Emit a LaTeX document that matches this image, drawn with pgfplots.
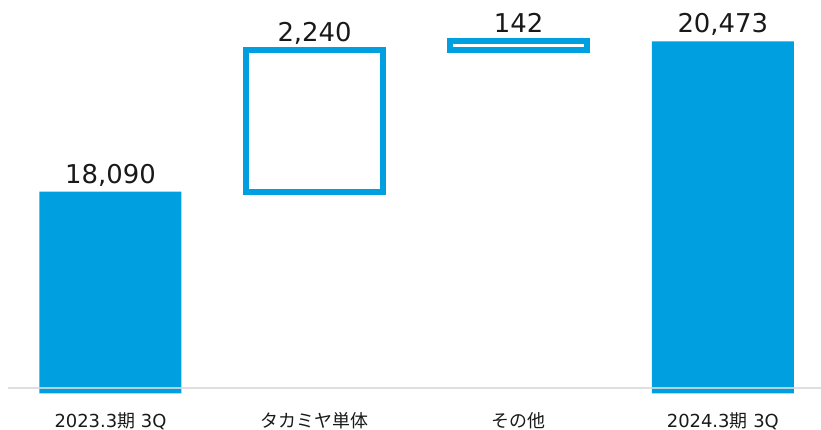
\documentclass[border=0pt]{standalone}
\usepackage{pgfplots}
\pgfplotsset{compat=1.18}
\usepackage{fontspec}
\setmainfont{DejaVu Sans}
\newfontfamily\cjk{Noto Sans CJK JP}
\definecolor{barblue}{HTML}{009FE0}
\definecolor{axisgray}{HTML}{D9D9D9}
\begin{document}
\begin{tikzpicture}
\useasboundingbox (0,0) rectangle (821bp,430bp);
\begin{axis}[
  at={(8bp,36.7bp)}, anchor=south west,
  scale only axis, width=813bp, height=393.3bp,
  xmin=-0.502, xmax=3.481, ymin=14890, ymax=21130,
  axis line style={draw=none},
  ytick=\empty,
  xtick={0,1,2,3},
  xticklabels={2023.3{\cjk 期} 3Q, {\cjk タカミヤ単体}, {\cjk その他}, 2024.3{\cjk 期} 3Q},
  major tick length=0pt,
  xticklabel style={font=\fontsize{18}{20}\selectfont, text=black!90, anchor=base, yshift=-33.7bp},
]
\addplot[ybar, bar width=142bp, bar shift=0pt, fill=barblue, draw=none] coordinates {(0,18090) (3,20473)};
\addplot[barblue, line width=6bp, line join=miter] coordinates {(0.665,18090) (1.335,18090) (1.335,20330) (0.665,20330)} -- cycle;
\addplot[barblue, line width=6bp, line join=miter] coordinates {(1.665,20330) (2.335,20330) (2.335,20473) (1.665,20473)} -- cycle;
\addplot[draw=none, mark=none, nodes near coords, point meta=explicit symbolic,
  every node near coord/.append style={font=\fontsize{26}{28}\selectfont, text=black!90, anchor=base, yshift=8.5bp}]
  table[meta=label] {
x y label
0 18090 18,090
1 20330 2,240
2 20473 142
3 20473 20,473
};
\draw[axisgray, line width=2bp, opacity=0.85] (axis cs:-0.502,14971) -- (axis cs:3.481,14971);
\end{axis}
\end{tikzpicture}
\end{document}
